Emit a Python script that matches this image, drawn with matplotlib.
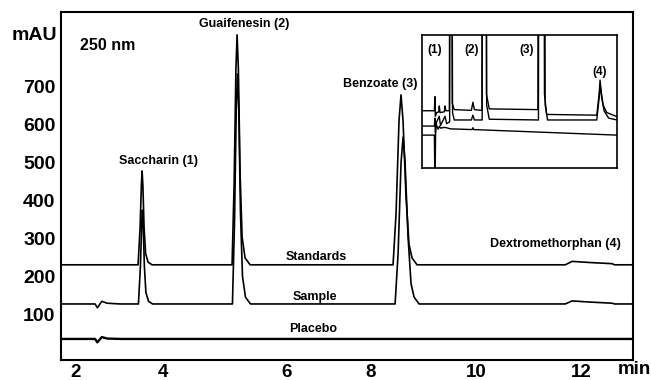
import numpy as np
import matplotlib.pyplot as plt

plt.rcParams['font.family'] = ['Liberation Sans', 'DejaVu Sans']
plt.rcParams['font.weight'] = 'bold'

# 坐标刻度
x_ticks = [2, 4, 6, 8, 10, 12]
y_ticks = [100, 200, 300, 400, 500, 600, 700]

# 色谱图数据: 时间 (min) / 吸光度 (mAU)
std_t = [1.68, 3.432, 3.478, 3.507, 3.523, 3.541, 3.568, 3.603, 3.659, 3.75,
         5.113, 5.146, 5.175, 5.194, 5.215, 5.242, 5.275, 5.323, 5.404,
         8.419, 8.476, 8.533, 8.571, 8.609, 8.666, 8.723, 8.781, 8.876,
         11.70, 11.83, 12.17, 12.59, 12.64, 12.99]
std_v = [232, 232, 331, 442, 479, 442, 331, 262, 239, 232,
         232, 444, 746, 837, 746, 474, 305, 250, 232,
         232, 366, 612, 679, 612, 411, 286, 250, 232,
         232, 241, 238, 235, 232, 232]

smp_t = [1.68, 2.455, 2.507, 2.607, 2.727, 3.02,
         3.44, 3.485, 3.514, 3.53, 3.548, 3.575, 3.61, 3.67, 3.76,
         5.119, 5.152, 5.181, 5.20, 5.221, 5.248, 5.281, 5.329, 5.41,
         8.458, 8.515, 8.572, 8.61, 8.648, 8.705, 8.762, 8.82, 8.915,
         11.70, 11.83, 12.17, 12.59, 12.64, 12.99]
smp_v = [129, 129, 119, 136, 131, 129,
         129, 228, 339, 376, 339, 228, 159, 136, 129,
         129, 341, 643, 734, 643, 371, 202, 147, 129,
         129, 261, 502, 568, 502, 305, 182, 147, 129,
         129, 137, 134, 131, 129, 129]

plc_t = [1.68, 2.455, 2.507, 2.607, 2.727, 3.02, 12.99]
plc_v = [37, 37, 28, 42, 38, 37, 37]

# 插图 (放大的基线区域)
ins_std_t = [1.64, 2.45, 2.49, 2.51, 2.60, 2.74, 2.77, 2.82, 3.10, 3.15, 3.20, 3.43,
             3.48, 3.523, 3.57, 3.62, 3.75, 4.62, 4.69, 4.76, 5.11, 5.15, 5.194, 5.25,
             5.32, 5.45, 8.42, 8.48, 8.571, 8.67, 8.78, 8.90, 11.65, 11.78, 11.83,
             11.90, 12.0, 12.2, 12.76]
ins_std_v = [15.5, 15.5, 19.3, 14.0, 15.0, 15.2, 16.8, 15.0, 15.2, 16.8, 15.5, 15.5,
             110, 262, 110, 17.5, 15.8, 15.6, 17.8, 15.8, 15.6, 300, 620, 300,
             20, 16.0, 15.8, 250, 462, 250, 20, 14.5, 14.3, 20, 23.8,
             20.5, 17, 15, 13.9]

ins_smp_t = [1.64, 2.45, 2.49, 2.51, 2.60, 2.77, 2.85, 3.15, 3.25, 3.45,
             3.49, 3.53, 3.58, 3.64, 3.75, 4.62, 4.69, 4.76, 5.12, 5.16, 5.20, 5.26,
             5.33, 5.45, 8.45, 8.52, 8.61, 8.71, 8.82, 8.95, 11.65, 11.78, 11.83,
             11.92, 12.05, 12.3, 12.76]
ins_smp_v = [11.35, 11.35, 13.5, 9.5, 12.5, 14.0, 11.5, 14.0, 12.0, 12.5,
             110, 260, 110, 15.0, 13.0, 13.0, 14.3, 13.0, 13.0, 300, 620, 300,
             17, 13.2, 13.0, 250, 450, 250, 17, 13.0, 13.0, 19, 22.4,
             19, 15.5, 13.5, 13.0]

ins_plc_t = [1.64, 2.45, 2.49, 2.53, 2.55, 2.70, 2.77, 2.85, 3.15, 3.50, 4.65, 4.69,
             4.73, 12.76]
ins_plc_v = [8.9, 8.9, -5, 9.0, 12.0, 10.5, 11.3, 10.8, 11.0, 10.6, 10.4, 10.9,
             10.4, 8.9]

# 原图时间轴刻度间距不均匀
knot_t = [0, 2, 4, 6, 8, 10, 12, 14]
knot_p = [-13, 75, 163, 287, 371, 476, 581, 686]


def fwd(t):
    return np.interp(t, knot_t, knot_p)


def inv(p):
    return np.interp(p, knot_p, knot_t)


fig = plt.figure(figsize=(6.51, 3.80), dpi=100)
ax = fig.add_axes([61 / 651, 20 / 380, 572 / 651, 348 / 380])
ax.set_xscale('function', functions=(fwd, inv))

ax.plot(std_t, std_v, color='black', lw=1.2)
ax.plot(smp_t, smp_v, color='black', lw=1.2)
ax.plot(plc_t, plc_v, color='black', lw=1.7)

ax.set_xlim(1.68, 12.99)
ax.set_ylim(-18.4, 897)
ax.set_xticks(x_ticks)
ax.set_xticklabels([str(v) for v in x_ticks])
ax.set_yticks(y_ticks)
ax.set_yticklabels([str(v) for v in y_ticks])
ax.xaxis.set_minor_locator(plt.NullLocator())
ax.tick_params(axis='x', length=0, labelsize=13.5, pad=3)
ax.tick_params(axis='y', length=0, labelsize=14, pad=4)
for s in ax.spines.values():
    s.set_linewidth(1.5)

# 标注
ax.text(2.75, 810, '250 nm', fontsize=11.5, ha='center', va='center')
ax.text(3.89, 505, 'Saccharin (1)', fontsize=9, ha='center', va='center')
ax.text(5.31, 866, 'Guaifenesin (2)', fontsize=9, ha='center', va='center')
ax.text(8.17, 708, 'Benzoate (3)', fontsize=9, ha='center', va='center')
ax.text(6.69, 253, 'Standards', fontsize=9, ha='center', va='center')
ax.text(6.67, 147, 'Sample', fontsize=9, ha='center', va='center')
ax.text(6.62, 62, 'Placebo', fontsize=9, ha='center', va='center')
ax.text(11.52, 287, 'Dextromethorphan (4)', fontsize=9, ha='center', va='center')

fig.text(57 / 651, 1 - 35 / 380, 'mAU', fontsize=14, ha='right', va='center')
fig.text(634 / 651, 1 - 370 / 380, 'min', fontsize=13.5, ha='center', va='center')

# 插图
ins = fig.add_axes([422 / 651, 1 - 168 / 380, 195 / 651, 133 / 380])
ins.set_xscale('function', functions=(fwd, inv))
ins.plot(ins_std_t, ins_std_v, color='black', lw=1.0)
ins.plot(ins_smp_t, ins_smp_v, color='black', lw=1.0)
ins.plot(ins_plc_t, ins_plc_v, color='black', lw=1.0)
ins.set_xlim(1.64, 12.76)
ins.set_ylim(0, 36)
ins.set_xticks([])
ins.set_yticks([])
ins.xaxis.set_minor_locator(plt.NullLocator())
for s in ins.spines.values():
    s.set_linewidth(1.2)
ins.text(0.067, 0.887, '(1)', transform=ins.transAxes, fontsize=8.5, ha='center', va='center')
ins.text(0.256, 0.887, '(2)', transform=ins.transAxes, fontsize=8.5, ha='center', va='center')
ins.text(0.538, 0.887, '(3)', transform=ins.transAxes, fontsize=8.5, ha='center', va='center')
ins.text(0.913, 0.72, '(4)', transform=ins.transAxes, fontsize=8.5, ha='center', va='center')

fig.savefig('out.png', dpi=100)
